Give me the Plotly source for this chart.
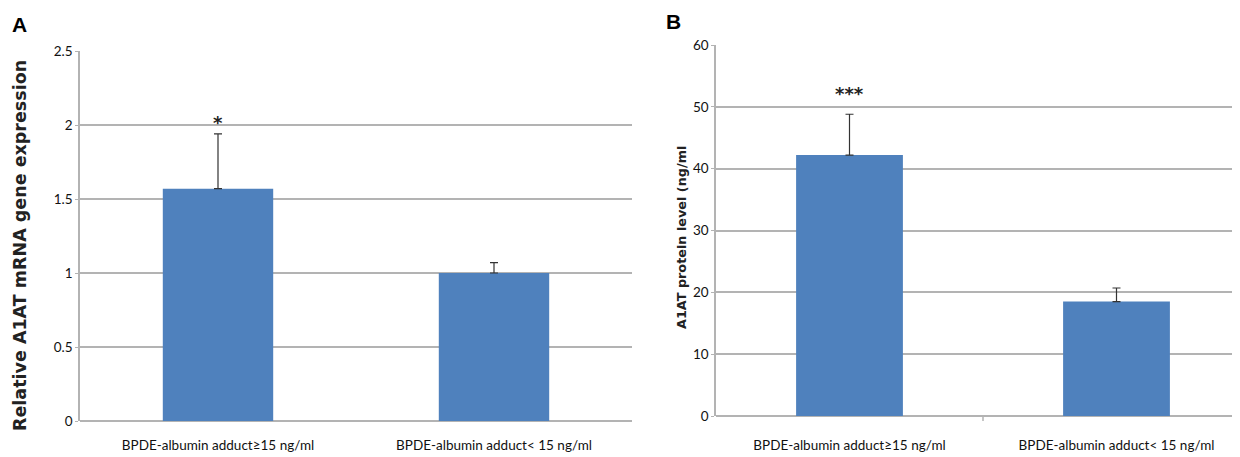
import plotly.graph_objects as go

categories = ["BPDE-albumin adduct≥15 ng/ml", "BPDE-albumin adduct< 15 ng/ml"]
mrna_values = [1.57, 1.0]
mrna_errors = [0.37, 0.07]
protein_values = [42.2, 18.5]
protein_errors = [6.6, 2.2]
mrna_ticks = [0, 0.5, 1, 1.5, 2, 2.5]
mrna_tick_labels = ["0", "0.5", "1", "1.5", "2", "2.5"]
protein_ticks = [0, 10, 20, 30, 40, 50, 60]
protein_tick_labels = ["0", "10", "20", "30", "40", "50", "60"]
sig_labels_a = ["*", ""]
sig_labels_b = ["***", ""]

# page is offset by the default 8px body margin
OFF = 8
W, H = 1240 - OFF, 457 - OFF
BAR = "#4F81BD"
GRID = "#b3b3b3"
TICKFONT = dict(family="Lato, Liberation Sans Narrow, sans-serif", size=13.5, color="#111111")

fig = go.Figure()
fig.add_trace(go.Bar(
    x=categories, y=mrna_values, marker=dict(color=BAR, line=dict(width=0)),
    error_y=dict(type="data", array=mrna_errors, symmetric=False, arrayminus=[0, 0],
                 color="#333333", thickness=1.2, width=4),
    width=0.4, xaxis="x", yaxis="y", showlegend=False))
fig.add_trace(go.Bar(
    x=categories, y=protein_values, marker=dict(color=BAR, line=dict(width=0)),
    error_y=dict(type="data", array=protein_errors, symmetric=False, arrayminus=[0, 0],
                 color="#333333", thickness=1.2, width=4),
    width=0.4, xaxis="x2", yaxis="y2", showlegend=False))

def px_x(p):
    return (p - OFF) / W

def px_y(p):
    return (457 - p) / H

fig.update_layout(
    width=W, height=H, margin=dict(l=0, r=0, t=0, b=0, autoexpand=False),
    paper_bgcolor="white", plot_bgcolor="white",
    xaxis=dict(domain=[px_x(80), px_x(632)], range=[-0.5, 1.5], showgrid=False,
               showline=False, ticks="", tickfont=TICKFONT, ticklabelstandoff=14,
               automargin=False),
    yaxis=dict(domain=[px_y(421), px_y(51)], range=[0, 2.5], tickvals=mrna_ticks,
               ticktext=mrna_tick_labels, showgrid=True, gridcolor=GRID, gridwidth=1.5,
               showline=True, linecolor=GRID, linewidth=1.5, ticks="outside", ticklen=3,
               tickcolor=GRID, tickfont=TICKFONT, zeroline=True, zerolinecolor=GRID,
               zerolinewidth=1.5, automargin=False),
    xaxis2=dict(domain=[px_x(716), 1.0], range=[-0.5, 1.5 - 10 / 267], showgrid=False,
                showline=False, ticks="", tickfont=TICKFONT, ticklabelstandoff=14,
                automargin=False),
    yaxis2=dict(domain=[px_y(416), px_y(45)], range=[0, 60], tickvals=protein_ticks,
                ticktext=protein_tick_labels, showgrid=True, gridcolor=GRID, gridwidth=1.5,
                showline=True, linecolor=GRID, linewidth=1.5, ticks="outside", ticklen=3,
                tickcolor=GRID, tickfont=TICKFONT, zeroline=True, zerolinecolor=GRID,
                zerolinewidth=1.5, anchor="x2", automargin=False),
    bargap=0.6,
)

annotations = [
    dict(text="<b>A</b>", x=px_x(10), y=px_y(25), xref="paper", yref="paper",
         xanchor="left", yanchor="middle", showarrow=False,
         font=dict(family="Arial, Liberation Sans, sans-serif", size=21, color="black")),
    dict(text="<b>B</b>", x=px_x(664), y=px_y(21), xref="paper", yref="paper",
         xanchor="left", yanchor="middle", showarrow=False,
         font=dict(family="Arial, Liberation Sans, sans-serif", size=21, color="black")),
    dict(text="<b>Relative A1AT mRNA gene expression</b>", textangle=-90,
         x=px_x(20), y=px_y(246), xref="paper", yref="paper",
         xanchor="center", yanchor="middle", showarrow=False,
         font=dict(family="DejaVu Sans, Verdana, sans-serif", size=17.5, color="#222222")),
    dict(text="<b>A1AT protein level (ng/ml</b>", textangle=-90,
         x=px_x(681), y=px_y(238), xref="paper", yref="paper",
         xanchor="center", yanchor="middle", showarrow=False,
         font=dict(family="DejaVu Sans, Verdana, sans-serif", size=12.8, color="#222222")),
]
for cat, v, e, s in zip(categories, mrna_values, mrna_errors, sig_labels_a):
    if s:
        annotations.append(dict(text="<b>" + s + "</b>", x=cat, y=v + e, xref="x", yref="y",
                                yshift=11, showarrow=False,
                                font=dict(family="DejaVu Sans, sans-serif", size=18, color="#222")))
for cat, v, e, s in zip(categories, protein_values, protein_errors, sig_labels_b):
    if s:
        annotations.append(dict(text="<b>" + s + "</b>", x=cat, y=v + e, xref="x2", yref="y2",
                                yshift=21, showarrow=False,
                                font=dict(family="DejaVu Sans, sans-serif", size=18, color="#222")))
fig.update_layout(annotations=annotations)

# small tick at the boundary between the two categories in panel B
fig.add_shape(type="line", xref="x2", yref="paper", x0=0.5, x1=0.5,
              y0=px_y(416), y1=px_y(421), line=dict(color=GRID, width=1.5))

fig.write_html("out.html")
